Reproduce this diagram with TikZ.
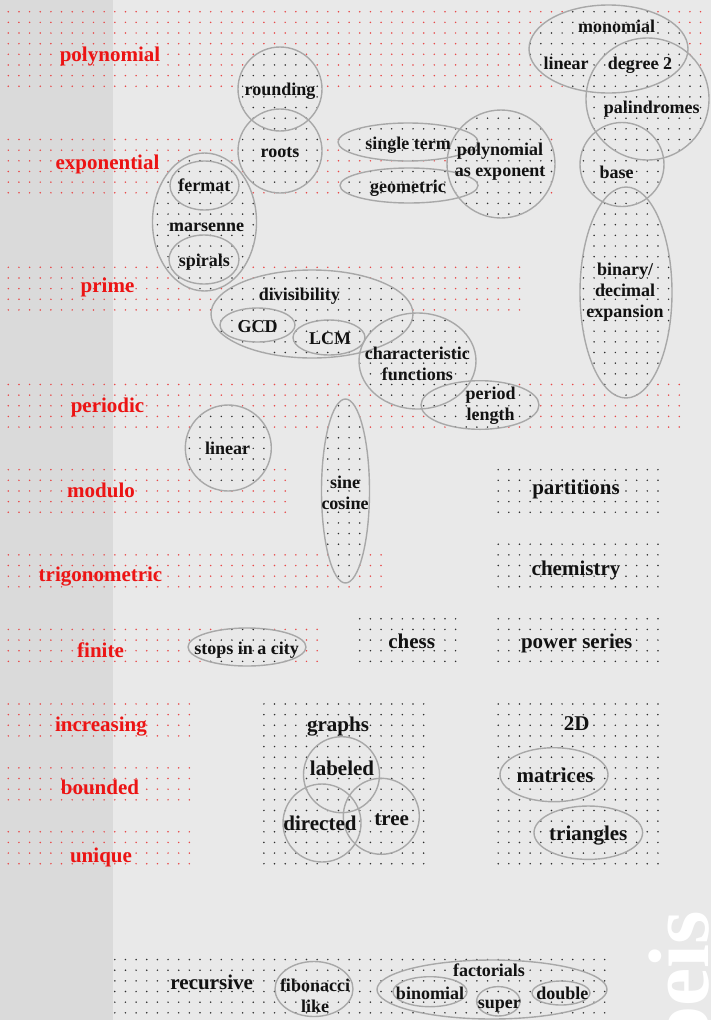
\documentclass[tikz,border=0pt]{standalone}
\usepackage{fontspec}
\setmainfont{Liberation Serif}
\definecolor{bgc}{RGB}{233,233,233}
\definecolor{stripc}{RGB}{218,218,218}
\definecolor{ringc}{RGB}{168,168,168}
\definecolor{redtxt}{RGB}{236,20,20}
\definecolor{reddot}{RGB}{232,72,72}
\definecolor{blkdot}{RGB}{45,45,45}
\definecolor{blktxt}{RGB}{18,18,18}
\newcommand\gridstep{10.65}
\newcommand\gridox{8.3}
\newcommand\gridoy{11.7}
\newcommand\dotgrid[5]{\foreach \ii in {#2,...,#3}{\foreach \jj in {#4,...,#5}{\fill[#1] ({\gridox+\gridstep*\ii},{\gridoy+\gridstep*\jj}) circle (0.85pt);}}}
\newcommand\inkdots[4]{%
  \fill[bgc] (#1,#2) ellipse [x radius=#3pt, y radius=#4pt];
  \begin{scope}
    \clip (#1,#2) ellipse [x radius=#3pt, y radius=#4pt];
    \pgfmathtruncatemacro\ia{(#1-#3-\gridox)/\gridstep}
    \pgfmathtruncatemacro\ib{(#1+#3-\gridox)/\gridstep+1}
    \pgfmathtruncatemacro\ja{(#2-#4-\gridoy)/\gridstep}
    \pgfmathtruncatemacro\jb{(#2+#4-\gridoy)/\gridstep+1}
    \dotgrid{blkdot}{\ia}{\ib}{\ja}{\jb}
  \end{scope}}
\newcommand\ring[4]{\draw[ringline] (#1,#2) ellipse [x radius=#3pt, y radius=#4pt];}
\tikzset{
  ringline/.style={draw=ringc, line width=1.4pt},
  redlab/.style={text=redtxt, font=\bfseries\fontsize{21}{24}\selectfont, text height=14.7pt, text depth=4.6pt, inner sep=0pt, yshift=-2pt},
  smalllab/.style={text=blktxt, font=\bfseries\fontsize{18}{20.5}\selectfont, text height=12.6pt, text depth=4pt, inner sep=0pt, yshift=-1.8pt},
  multilab/.style={text=blktxt, font=\bfseries\fontsize{18}{21}\selectfont, align=center, inner sep=0pt, yshift=-3.5pt},
  biglab/.style={text=blktxt, font=\bfseries\fontsize{21}{24}\selectfont, text height=14.7pt, text depth=4.6pt, inner sep=0pt, yshift=-2.3pt}
}
\begin{document}
\begin{tikzpicture}[x=1pt,y=-1pt]
\clip (0,0) rectangle (711,1020);
\fill[bgc] (0,0) rectangle (711,1020);
\fill[stripc] (0,0) rectangle (113,1020);
% red bands
\dotgrid{reddot}{0}{65}{0}{7}
\dotgrid{reddot}{0}{51}{12}{17}
\dotgrid{reddot}{0}{48}{24}{28}
\dotgrid{reddot}{0}{63}{35}{39}
\dotgrid{reddot}{0}{26}{43}{47}
\dotgrid{reddot}{0}{35}{51}{54}
\dotgrid{reddot}{0}{29}{58}{61}
\dotgrid{reddot}{0}{17}{65}{68}
\dotgrid{reddot}{0}{17}{71}{74}
\dotgrid{reddot}{0}{17}{77}{80}
% black blocks
\dotgrid{blkdot}{46}{61}{43}{47}
\dotgrid{blkdot}{46}{61}{50}{54}
\dotgrid{blkdot}{33}{42}{57}{61}
\dotgrid{blkdot}{46}{61}{57}{61}
\dotgrid{blkdot}{24}{39}{65}{80}
\dotgrid{blkdot}{46}{61}{65}{80}
\dotgrid{blkdot}{10}{56}{89}{94}
% ellipse interiors
\inkdots{280}{89}{42}{42}
\inkdots{280}{151}{42}{42}
\inkdots{204.5}{222}{52}{69}
\inkdots{408}{142}{70}{19}
\inkdots{409}{185.5}{69}{17.5}
\inkdots{501}{164}{54}{54}
\inkdots{608.5}{49}{79.5}{44}
\inkdots{647.5}{99}{61.5}{61}
\inkdots{622}{164.5}{42}{42}
\inkdots{626}{292.5}{46}{105.5}
\inkdots{312}{314}{101}{44}
\inkdots{417.5}{361}{58.5}{48}
\inkdots{480}{405}{59}{24.3}
\inkdots{228.3}{448}{43}{43}
\inkdots{345.5}{491}{24}{92}
\inkdots{247}{647}{59}{19}
\inkdots{314}{989}{39}{27.5}
\inkdots{492}{989.5}{115}{29.5}
% outlines
\ring{280}{89}{42}{42}
\ring{280}{151}{42}{42}
\ring{204.5}{222}{52}{69}
\ring{204.5}{185.5}{34.5}{24.5}
\ring{204}{259.5}{35}{24.5}
\ring{408}{142}{70}{19}
\ring{409}{185.5}{69}{17.5}
\ring{501}{164}{54}{54}
\ring{608.5}{49}{79.5}{44}
\ring{647.5}{99}{61.5}{61}
\ring{622}{164.5}{42}{42}
\ring{626}{292.5}{46}{105.5}
\ring{312}{314}{101}{44}
\ring{257.5}{325}{37.5}{17}
\ring{329}{337.5}{36}{17.5}
\ring{417.5}{361}{58.5}{48}
\ring{480}{405}{59}{24.3}
\ring{228.3}{448}{43}{43}
\ring{345.5}{491}{24}{92}
\ring{247}{647}{59}{19}
\ring{341.5}{774.7}{38}{38}
\ring{322}{823}{39}{39}
\ring{381.3}{816.3}{38}{38}
\ring{554}{774.7}{54}{27}
\ring{588.3}{832.7}{54.3}{26.7}
\ring{314}{989}{39}{27.5}
\ring{492}{989.5}{115}{29.5}
\ring{430}{991.7}{37}{15}
\ring{498.3}{1001.3}{21.7}{14.7}
\ring{561}{993}{29}{12}
% red labels
\node[redlab] (lpoly) at (110,54) {polynomial};
\node[redlab] (lexpo) at (107.5,162.3) {exponential};
\node[redlab] (lprime) at (107.5,285.7) {prime};
\node[redlab] (lperiodic) at (107.5,405) {periodic};
\node[redlab] (lmodulo) at (101,490) {modulo};
\node[redlab] (ltrig) at (100.5,574) {trigonometric};
\node[redlab] (lfinite) at (100.5,650) {finite};
\node[redlab] (lincr) at (101,724) {increasing};
\node[redlab] (lbound) at (100,787.7) {bounded};
\node[redlab] (luniq) at (101,855) {unique};
% small labels
\node[smalllab] (rounding) at (280,89) {rounding};
\node[smalllab] (roots) at (280,151.7) {roots};
\node[smalllab] (fermat) at (204.3,185) {fermat};
\node[smalllab] (marsenne) at (206.7,225) {marsenne};
\node[smalllab] (spirals) at (204.3,260) {spirals};
\node[smalllab] (divis) at (299.3,294.3) {divisibility};
\node[smalllab] (monomial) at (616.7,26.7) {monomial};
\node[smalllab] (linear1) at (566,63.3) {linear};
\node[smalllab] (degree) at (640,63.3) {degree 2};
\node[smalllab] (palin) at (651.7,107.3) {palindromes};
\node[smalllab] (single) at (408,143) {single term};
\node[smalllab] (geom) at (408,186.7) {geometric};
\node[multilab] (polyexp) at (500,158) {polynomial\\as exponent};
\node[smalllab] (base) at (616.7,172.3) {base};
\node[multilab] (binary) at (625,289) {binary/\\decimal\\expansion};
\node[smalllab] (gcd) at (257.7,326.7) {GCD};
\node[smalllab] (lcm) at (330,338.3) {LCM};
\node[multilab] (charf) at (417.3,360) {characteristic\\functions};
\node[multilab] (period) at (490.7,402) {period\\length};
\node[smalllab] (linear2) at (227.7,448.3) {linear};
\node[multilab] (sine) at (345,489.5) {sine\\cosine};
\node[smalllab] (stops) at (246.7,648.3) {stops in a city};
\node[multilab] (fibo) at (315,992.3) {fibonacci\\like};
\node[smalllab] (fact) at (489,970.7) {factorials};
\node[smalllab] (binom) at (430,993.3) {binomial};
\node[smalllab] (super) at (499.3,1002.7) {super};
\node[smalllab] (double) at (562.3,993.3) {double};
% big labels
\node[biglab] (partitions) at (576,486.7) {partitions};
\node[biglab] (chemistry) at (576,568.3) {chemistry};
\node[biglab] (chess) at (411.7,641) {chess};
\node[biglab] (power) at (576.7,641) {power series};
\node[biglab] (graphs) at (338,724) {graphs};
\node[biglab] (labeled) at (342,768) {labeled};
\node[biglab] (directed) at (320,823.3) {directed};
\node[biglab] (tree) at (391.7,818.3) {tree};
\node[biglab] (twod) at (576.7,723.3) {2D};
\node[biglab] (matrices) at (555,775) {matrices};
\node[biglab] (triangles) at (588.3,833.3) {triangles};
\node[biglab] (recursive) at (211.7,981.7) {recursive};
% logo
\node[rotate=90, anchor=base east, text=white, font=\bfseries\fontsize{86}{86}\selectfont, inner sep=0pt] (oeis) at (708,911) {oeis};
\end{tikzpicture}
\end{document}
